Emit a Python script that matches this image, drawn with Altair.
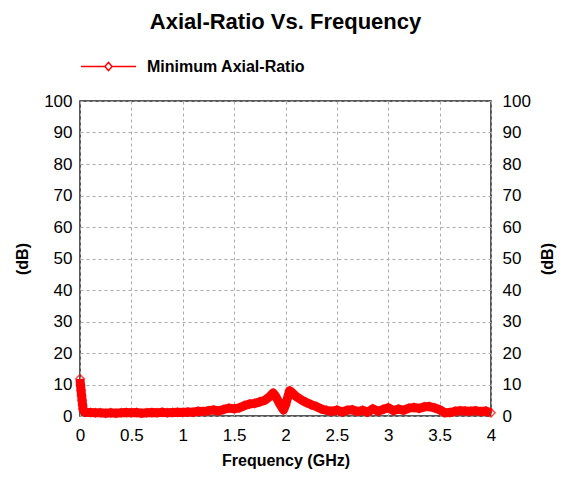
import altair as alt
import pandas as pd

freq = [0.0, 0.005, 0.01, 0.015, 0.02, 0.025, 0.03, 0.04,
        0.05, 0.10, 0.15, 0.20, 0.25, 0.30, 0.35, 0.40, 0.45, 0.50,
        0.55, 0.60, 0.65, 0.70, 0.75, 0.80, 0.85, 0.90, 0.95, 1.00,
        1.05, 1.10, 1.15, 1.20, 1.25, 1.30, 1.35, 1.40, 1.45, 1.50,
        1.55, 1.60, 1.65, 1.70, 1.75, 1.80, 1.85, 1.88, 1.90, 1.95,
        1.98, 2.00, 2.04, 2.05, 2.10, 2.15, 2.20, 2.25, 2.30, 2.35,
        2.40, 2.45, 2.50, 2.55, 2.60, 2.65, 2.70, 2.75, 2.80, 2.85,
        2.90, 2.95, 3.00, 3.05, 3.10, 3.15, 3.20, 3.25, 3.30, 3.35,
        3.40, 3.45, 3.50, 3.55, 3.60, 3.65, 3.70, 3.75, 3.80, 3.85,
        3.90, 3.95, 4.00]
axial_ratio = [11.8, 9.8, 8.2, 6.6, 5.0, 3.5, 2.2, 1.4,
               1.2, 1.1, 1.0, 1.0, 0.9, 1.0, 0.9, 1.0, 1.1, 1.0,
               1.1, 0.9, 1.0, 1.1, 1.0, 1.2, 1.0, 1.1, 1.2, 1.1,
               1.3, 1.2, 1.5, 1.4, 1.7, 1.9, 1.6, 2.1, 2.5, 2.3,
               2.6, 3.3, 3.8, 4.0, 4.5, 5.0, 6.3, 7.3, 6.5, 3.5,
               1.9, 3.5, 8.0, 7.8, 6.3, 5.2, 4.3, 3.6, 3.0, 2.2,
               1.8, 1.5, 1.9, 1.3, 1.8, 2.0, 1.4, 1.8, 1.2, 2.3,
               1.5, 2.1, 2.6, 1.7, 2.2, 1.8, 2.5, 2.7, 2.4, 2.9,
               3.0, 2.6, 2.0, 1.0, 1.1, 1.5, 1.7, 1.6, 1.5, 1.7,
               1.4, 1.6, 1.0]
series_name = "Minimum Axial-Ratio"
x_ticks = [0, 0.5, 1, 1.5, 2, 2.5, 3, 3.5, 4]
y_ticks = [0, 10, 20, 30, 40, 50, 60, 70, 80, 90, 100]

df = pd.DataFrame({"freq": freq, "ar": axial_ratio, "series": [series_name] * len(freq)})

FONT = "Liberation Sans"
RED = "#ff0000"

x_enc = alt.X("freq:Q", scale=alt.Scale(domain=[0, 4], nice=False),
              axis=alt.Axis(values=x_ticks, title="Frequency (GHz)", format="~g",
                            labelFlush=False, labelPadding=11, titlePadding=9))

legend_path = "M-1,0L-0.13,0M0.13,0L1,0M-0.13,0L0,-0.15L0.13,0L0,0.15Z"

line = alt.Chart(df).mark_line(strokeWidth=9, strokeJoin="round").encode(
    x=x_enc,
    y=alt.Y("ar:Q", scale=alt.Scale(domain=[0, 100], nice=False),
            axis=alt.Axis(values=y_ticks, title="(dB)", orient="left",
                          labelPadding=8, titlePadding=13)),
    color=alt.Color("series:N",
                    scale=alt.Scale(domain=[series_name], range=[RED]),
                    legend=alt.Legend(title=None, orient="none", legendX=0, legendY=-63,
                                      symbolType=legend_path, symbolSize=3025,
                                      symbolStrokeWidth=1.5, labelOffset=10,
                                      labelFont=FONT, labelFontSize=16,
                                      labelFontWeight="bold", labelColor="black")),
)

pts = alt.Chart(df).mark_point(shape="diamond", filled=False, color=RED,
                               size=70, strokeWidth=1.5).encode(
    x=x_enc,
    y=alt.Y("ar:Q", scale=alt.Scale(domain=[0, 100], nice=False),
            axis=alt.Axis(values=y_ticks, title="(dB)", orient="right",
                          labelPadding=11, titlePadding=25, titleAngle=-90,
                          grid=False)),
)

chart = alt.layer(line, pts).resolve_scale(y="independent").properties(
    width=411, height=315,
    background="white",
    autosize=alt.AutoSizeParams(type="none"),
    padding={"left": 72, "top": 93, "right": 70, "bottom": 63},
    title=alt.Title("Axial-Ratio Vs. Frequency", font=FONT, fontSize=22,
                    fontWeight="bold", color="black", offset=4),
).configure_view(
    stroke="#222222", strokeWidth=1.5
).configure_axis(
    labelFont=FONT, labelFontSize=17, labelColor="black",
    titleFont=FONT, titleFontSize=16, titleFontWeight="bold", titleColor="black",
    domain=False, ticks=False,
    grid=True, gridColor="#aaaaaa", gridDash=[3, 3], gridWidth=1,
)

chart.save("out.html", embed_options={"renderer": "svg", "actions": False})
